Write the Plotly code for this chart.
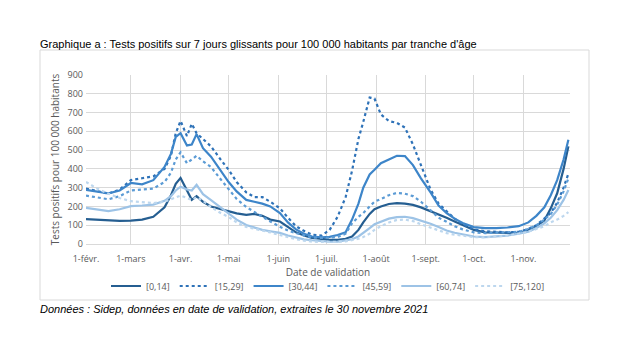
import plotly.graph_objects as go
import pandas as pd

dates = ["2021-02-01","2021-02-08","2021-02-15","2021-02-22","2021-03-01","2021-03-08","2021-03-15","2021-03-22",
         "2021-03-26","2021-03-29","2021-04-01","2021-04-05","2021-04-08","2021-04-11","2021-04-15","2021-04-20",
         "2021-04-26","2021-05-01","2021-05-06","2021-05-12","2021-05-17","2021-05-22","2021-05-27","2021-06-02",
         "2021-06-07","2021-06-12","2021-06-17","2021-06-22","2021-06-28","2021-07-03","2021-07-08","2021-07-13",
         "2021-07-17","2021-07-21","2021-07-24","2021-07-28","2021-07-31","2021-08-04","2021-08-09","2021-08-14",
         "2021-08-19","2021-08-24","2021-08-29","2021-09-04","2021-09-09","2021-09-14","2021-09-19","2021-09-24",
         "2021-10-01","2021-10-08","2021-10-15","2021-10-22","2021-10-29","2021-11-04","2021-11-09","2021-11-14",
         "2021-11-18","2021-11-22","2021-11-26","2021-11-29"]

age_0_14 = [132,128,124,123,125,130,145,195,260,320,352,280,235,255,225,200,185,172,163,155,160,150,130,120,
            90,62,45,33,27,22,22,28,40,75,115,160,185,200,213,218,215,208,195,175,155,140,120,100,
            75,62,60,62,58,75,95,125,190,270,400,520]
age_15_29 = [295,280,268,290,340,350,360,400,470,590,655,575,640,590,560,520,450,395,330,275,250,250,225,190,
             140,95,70,50,45,75,145,250,390,560,650,780,775,690,655,645,620,530,420,290,215,175,135,105,
             78,68,65,62,65,80,100,135,165,220,300,375]
age_30_44 = [288,278,270,285,325,318,340,410,480,570,590,525,530,585,510,465,390,330,280,235,225,215,200,165,
             115,78,55,40,36,38,48,62,130,215,300,370,395,430,450,470,468,420,350,275,205,165,135,112,
             90,85,85,88,95,115,150,195,260,340,450,555]
age_45_59 = [258,248,238,255,285,290,295,330,380,450,488,430,450,470,440,410,345,290,240,197,170,145,120,92,
             72,58,45,35,32,33,37,55,110,145,165,200,225,240,260,272,268,255,225,180,140,118,95,78,
             62,58,60,62,65,80,100,130,160,210,280,350]
age_60_74 = [192,182,175,185,202,205,210,230,255,285,305,290,285,315,265,234,195,165,130,101,88,75,68,59,
             45,33,25,20,15,12,13,18,25,40,58,85,105,120,135,143,145,138,125,108,90,72,60,50,
             40,37,40,45,55,65,85,110,140,180,235,288]
age_75_120 = [330,295,268,245,228,222,218,225,238,250,258,245,235,250,230,197,165,144,115,91,82,75,62,48,
              35,25,18,13,11,10,11,14,20,28,37,55,75,95,115,128,130,122,105,88,70,58,50,45,
              37,35,38,45,55,65,80,95,115,130,150,170]

series_names = ["[0,14]", "[15,29]", "[30,44]", "[45,59]", "[60,74]", "[75,120]"]
series_values = [age_0_14, age_15_29, age_30_44, age_45_59, age_60_74, age_75_120]
colors = ["#255E91", "#2E72B8", "#3D85C9", "#5B9BD5", "#9DC3E6", "#BDD7EE"]
dashes = ["solid", "dot", "solid", "dot", "solid", "dot"]

tick_vals = ["2021-02-01","2021-03-01","2021-04-01","2021-05-01","2021-06-01","2021-07-01",
             "2021-08-01","2021-09-01","2021-10-01","2021-11-01"]
tick_text = ["1-févr.","1-mars","1-avr.","1-mai","1-juin","1-juil.","1-août","1-sept.","1-oct.","1-nov."]

fig = go.Figure()
x = pd.to_datetime(dates)
for name, vals, c, d in zip(series_names, series_values, colors, dashes):
    fig.add_trace(go.Scatter(x=x, y=vals, name=name, mode="lines",
                             line=dict(color=c, width=2.2, dash=d)))

W, H = 635, 353
L, R, T, B = 86, 570, 75, 244
def px(v):
    return (v - L) / (R - L)
def py(v):
    return (B - v) / (B - T)

gray = "#595959"
fig.update_layout(
    width=W, height=H,
    margin=dict(l=L, r=W - R, t=T, b=H - B),
    paper_bgcolor="white", plot_bgcolor="white",
    font=dict(family="Open Sans, Liberation Sans, Arial", size=9, color=gray),
    showlegend=True,
    legend=dict(orientation="h", x=0.5, xanchor="center", y=py(286), yanchor="middle",
                font=dict(size=9, color=gray), itemwidth=30, tracegroupgap=0,
                bgcolor="rgba(0,0,0,0)"),
    xaxis=dict(range=["2021-02-01", "2021-11-30"], tickvals=tick_vals, ticktext=tick_text,
               showgrid=True, gridcolor="#D9D9D9", gridwidth=1, showline=True, linecolor="#D9D9D9",
               zeroline=False, ticks="", tickfont=dict(size=9, color=gray), ticklabelstandoff=6,
               title=dict(text="Date de validation", font=dict(size=10, color=gray), standoff=4)),
    yaxis=dict(range=[0, 900], tickvals=[0,100,200,300,400,500,600,700,800,900],
               showgrid=True, gridcolor="#D9D9D9", gridwidth=1, zeroline=False, showline=False,
               ticks="", tickfont=dict(size=9, color=gray), ticklabelstandoff=2,
               title=dict(text="Tests positifs pour 100 000 habitants", font=dict(size=10, color=gray), standoff=6)),
)

fig.add_shape(type="rect", xref="paper", yref="paper", x0=px(40), x1=px(589), y0=py(300), y1=py(50),
              line=dict(color="#D9D9D9", width=1), layer="below")

fig.add_annotation(xref="paper", yref="paper", x=px(38), y=py(44), xanchor="left", yanchor="middle",
                   text="Graphique a : Tests positifs sur 7 jours glissants pour 100 000 habitants par tranche d'âge",
                   showarrow=False, font=dict(family="Liberation Sans, Arial", size=11, color="black"))
fig.add_annotation(xref="paper", yref="paper", x=px(38), y=py(309), xanchor="left", yanchor="middle",
                   text="<i>Données : Sidep, données en date de validation, extraites le 30 novembre 2021</i>",
                   showarrow=False, font=dict(family="Liberation Sans, Arial", size=11, color="black"))

fig.write_html("out.html")
